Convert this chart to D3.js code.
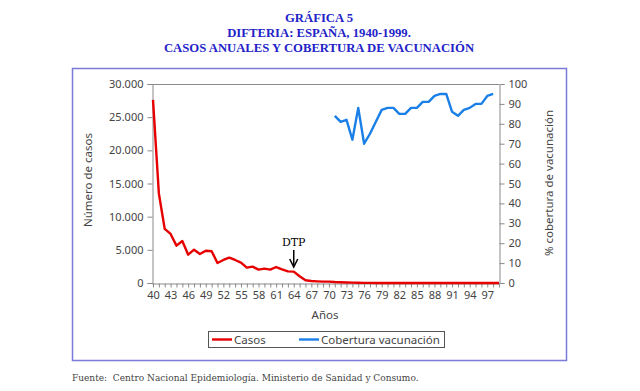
<!DOCTYPE html>
<html><head><meta charset="utf-8">
<script src="https://cdn.jsdelivr.net/npm/d3@7"></script>
<style>body{margin:0;background:#fff}svg{display:block}</style>
</head><body><svg id="c" width="640" height="391"></svg>
<script>
const titleLines = ["GRÁFICA 5","DIFTERIA: ESPAÑA, 1940-1999.","CASOS ANUALES Y COBERTURA DE VACUNACIÓN"];
const years = d3.range(40,100);
const casos = [27600,13500,8150,7400,5630,6330,4270,5020,4370,4870,4780,3020,3470,3820,3470,3070,2310,2460,2010,2160,2010,2410,2060,1760,1710,1010,410,300,250,200,200,150,120,80,50,30,20,15,10,8,5,5,3,3,2,2,1,1,1,1,0,0,0,0,0,0,0,0,0,0];
const cobYears = d3.range(71,99);
const cobertura = [84,81,82,72,88,70,75,81,87,88,88,85,85,88,88,91,91,94,95,95,86,84,87,88,90,90,94,95];
const leftTicks = [0,5000,10000,15000,20000,25000,30000];
const rightTicks = d3.range(0,101,10);
const xLabelYears = d3.range(40,98,3);

const svg = d3.select("#c");
const fontSans = "'Noto Sans', 'DejaVu Sans', sans-serif";
const fontSerif = "'DejaVu Serif', 'Liberation Serif', serif";
const axisCol = "#8a8a8a", txtCol = "#444";

// frame
svg.append("rect").attr("x",72.5).attr("y",68.5).attr("width",494).attr("height",292)
  .attr("fill","none").attr("stroke","#7a7ad8").attr("stroke-width",1.5);

// title
svg.append("g").selectAll("text").data(titleLines).join("text")
  .attr("x",319).attr("y",(d,i)=>22+i*15).attr("text-anchor","middle")
  .attr("font-family","'Liberation Serif', serif").attr("font-weight","bold").attr("font-size",12.7)
  .attr("fill","#2323c8").text(d=>d);

const x = d3.scalePoint().domain(years).range([153,499]);
const yL = d3.scaleLinear().domain([0,30000]).range([283,84]);
const yR = d3.scaleLinear().domain([0,100]).range([283,84]);

// top border
svg.append("line").attr("x1",153).attr("x2",499).attr("y1",84.5).attr("y2",84.5).attr("stroke",axisCol);

const fmt = d => d===0 ? "0" : d3.format(",")(d).replace(/,/g,".");
const gL = svg.append("g").attr("transform","translate(152.5,0)")
  .call(d3.axisLeft(yL).tickValues(leftTicks).tickFormat(fmt).tickSize(5).tickPadding(4));
const gR = svg.append("g").attr("transform","translate(499.5,0)")
  .call(d3.axisRight(yR).tickValues(rightTicks).tickSize(5).tickPadding(4));
const gX = svg.append("g").attr("transform","translate(0,283.5)")
  .call(d3.axisBottom(x).tickValues(years).tickFormat(d=>xLabelYears.includes(d)?d:"").tickSize(4).tickPadding(4).tickSizeOuter(0));
[gL,gR,gX].forEach(g=>{
  g.selectAll("path,line").attr("stroke",axisCol);
  g.selectAll("text").attr("fill",txtCol).attr("font-family",fontSans).attr("font-size",11);
});
gX.select(".domain").attr("d","M152.5,0.5H499.5");

// axis titles
svg.append("text").attr("transform","translate(92,180) rotate(-90)").attr("text-anchor","middle")
  .attr("font-family",fontSans).attr("font-size",11.5).attr("fill",txtCol).text("Número de casos");
svg.append("text").attr("transform","translate(553,183) rotate(-90)").attr("text-anchor","middle")
  .attr("font-family",fontSans).attr("font-size",11.5).attr("fill",txtCol).text("% cobertura de vacunación");
svg.append("text").attr("x",325).attr("y",319).attr("text-anchor","middle")
  .attr("font-family",fontSans).attr("font-size",11.5).attr("fill",txtCol).text("Años");

// lines
svg.append("path").datum(years.map((y,i)=>[y,casos[i]]))
  .attr("fill","none").attr("stroke","#e60000").attr("stroke-width",2.4).attr("stroke-linejoin","round")
  .attr("d",d3.line().x(d=>x(d[0])).y(d=>yL(d[1])));
svg.append("path").datum(cobYears.map((y,i)=>[y,cobertura[i]]))
  .attr("fill","none").attr("stroke","#1a80e8").attr("stroke-width",2.4).attr("stroke-linejoin","round")
  .attr("d",d3.line().x(d=>x(d[0])).y(d=>yR(d[1])));

// DTP annotation
const ax = x(64);
svg.append("text").attr("x",ax).attr("y",246).attr("text-anchor","middle")
  .attr("font-family",fontSerif).attr("font-size",11).attr("fill","#000").text("DTP");
svg.append("line").attr("x1",ax).attr("x2",ax).attr("y1",250).attr("y2",265).attr("stroke","#000").attr("stroke-width",1.5);
svg.append("path").attr("d",`M${ax-4},259 L${ax},267 L${ax+4},259`).attr("fill","none").attr("stroke","#000").attr("stroke-width",1.5);

// legend
svg.append("rect").attr("x",208.5).attr("y",331.5).attr("width",236).attr("height",16)
  .attr("fill","#fff").attr("stroke","#555");
const leg = [{t:"Casos",c:"#e60000",x:212},{t:"Cobertura vacunación",c:"#1a80e8",x:299}];
leg.forEach(l=>{
  svg.append("line").attr("x1",l.x).attr("x2",l.x+20).attr("y1",339.5).attr("y2",339.5).attr("stroke",l.c).attr("stroke-width",2.4);
  svg.append("text").attr("x",l.x+22).attr("y",343.5).attr("font-family",fontSans).attr("font-size",11.5).attr("fill",txtCol).text(l.t);
});

// source
svg.append("text").attr("x",72).attr("y",381).attr("font-family",fontSerif).attr("font-size",9).attr("fill",txtCol)
  .attr("xml:space","preserve").text("Fuente:  Centro Nacional Epidemiología. Ministerio de Sanidad y Consumo.");
</script></body></html>
